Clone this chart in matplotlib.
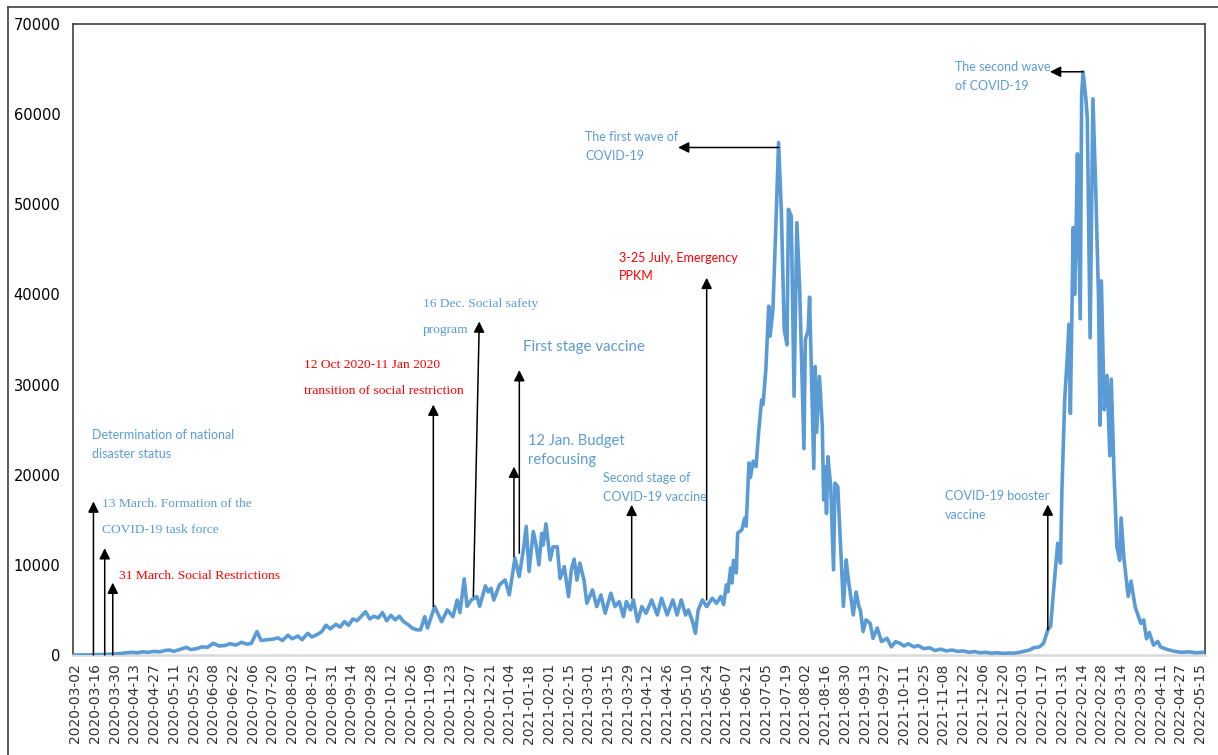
import matplotlib
matplotlib.use("Agg")
import matplotlib.pyplot as plt
from matplotlib.lines import Line2D

# category index (one per reported day) and daily new cases
day = [
    0, 10, 20, 28, 32, 36, 40, 44, 48, 52, 56, 60, 64, 67, 70, 74, 79, 82, 86, 90,
    94, 98, 102, 106, 110, 114, 118, 122, 125, 129, 132, 136, 140, 144, 147, 151,
    154, 158, 161, 165, 168, 172, 175, 178, 181, 185, 188, 191, 194, 197, 200, 203,
    206, 209, 212, 215, 218, 221, 224, 227, 230, 233, 236, 239, 242,
    245, 248, 250, 255, 260, 264, 268, 271, 273, 276, 278, 281, 285, 287, 291, 293,
    295, 297, 301, 305, 308, 312, 315, 318, 320, 322, 325, 327, 329, 331, 332, 334,
    337, 339, 342, 344, 347, 350, 352, 354, 356, 358, 361, 363, 367, 370, 373, 376,
    380, 383, 386, 389, 391, 394, 396, 399, 402, 405, 409, 413, 416, 420, 424, 427,
    430, 433, 435, 438, 440, 442, 445, 448, 452, 455, 458, 460, 462, 463, 465, 466,
    467, 469, 470, 473, 475, 476, 478, 479, 481, 483, 485, 487, 488, 490, 492, 493,
    495, 497, 499, 501, 503, 505, 506, 508, 510, 512, 514, 517, 518, 520, 521, 524,
    525, 526, 528, 530, 531, 532, 533, 534, 536, 538, 539, 541, 543, 545, 547, 548,
    552, 554, 556, 557, 559, 561, 564, 566, 569, 572, 576, 579, 582, 585,
    588, 591, 595, 598, 602, 606, 610, 614, 618, 622, 626, 630, 634, 638, 642, 646,
    650, 654, 658, 662, 666, 670, 674, 677, 680, 684, 687,
    690, 692, 694, 697, 699, 700, 702, 704, 705, 706, 708, 709, 710, 711, 713, 714,
    715, 717, 718, 720, 722, 724, 726, 727, 728, 730, 732, 734, 735, 737, 739, 741,
    742, 744, 747, 749, 752, 754, 756, 758, 760, 762, 765, 768, 770, 775, 780, 785,
    790, 795, 800,
]
cases = [
    2, 20, 60, 120, 150, 250, 300, 250, 350, 300, 400, 350, 500, 550, 400, 600, 850, 600, 700, 900,
    850, 1300, 1000, 1050, 1250, 1100, 1400, 1200, 1300, 2600, 1600, 1700, 1750, 1900, 1600, 2200,
    1800, 2100, 1700, 2400, 2000, 2300, 2600, 3300, 2900, 3400, 3100, 3700, 3300, 4000, 3800, 4300,
    4800, 4000, 4300, 4100, 4700, 3800, 4400, 3900, 4300, 3700, 3400, 3000, 2800,
    2780, 4250, 3000, 5370, 3700, 5000, 4250, 6100, 4700, 8440, 5400, 6100, 6480, 5400, 7670, 7000,
    7400, 6100, 7780, 8330, 6670, 10740, 8700, 11670, 14260, 9260, 13700, 12200, 10000, 13500, 12200, 14550,
    10550, 12000, 12000, 8480, 9800, 6480, 9440, 10630, 8300, 10200, 8300, 5740, 7220, 5370, 6670, 4630,
    6850, 5370, 5930, 4260, 5930, 5000, 6110, 3700, 5370, 4630, 6110, 4440, 6300, 4440, 6110, 4440,
    6110, 4440, 5000, 3700, 2400, 5000, 6110, 5370, 6300, 5740, 6480, 5600, 7780, 7000, 9650, 8000,
    10500, 9100, 13520, 13900, 15190, 14300, 21300, 19700, 21500, 20900, 25000, 28300, 27800, 31700, 38700, 35370,
    38300, 47200, 56850, 49100, 36100, 34400, 49440, 48700, 28700, 47960, 40500, 22900, 35000, 36000, 39700, 20700,
    32000, 24700, 30900, 25400, 17200, 20900, 15700, 22000, 18700, 9440, 19070, 18700, 12000, 5400, 10550, 9000,
    4440, 7000, 5370, 5000, 2600, 3900, 3500, 1850, 3000, 1500, 1850, 900, 1480, 1300,
    1000, 1250, 900, 1050, 700, 800, 500, 650, 450, 550, 400, 450, 300, 380, 250, 300,
    200, 250, 180, 220, 200, 300, 450, 550, 800, 900, 1300,
    2800, 3200, 7000, 12400, 10200, 18300, 28400, 33500, 36700, 26800, 47400, 40000, 46500, 55600, 37300, 62200,
    64700, 61700, 59600, 35200, 61700, 51600, 39400, 25500, 41500, 27200, 31000, 22100, 30600, 20000, 12000, 10500,
    15200, 10700, 6500, 8200, 5300, 4400, 3500, 3900, 1800, 2500, 1100, 1500, 880, 600, 400, 300,
    350, 250, 300,
]

tick_labels = [
    "2020-03-02", "2020-03-16", "2020-03-30", "2020-04-13", "2020-04-27", "2020-05-11",
    "2020-05-25", "2020-06-08", "2020-06-22", "2020-07-06", "2020-07-20", "2020-08-03",
    "2020-08-17", "2020-08-31", "2020-09-14", "2020-09-28", "2020-10-12", "2020-10-26",
    "2020-11-09", "2020-11-23", "2020-12-07", "2020-12-21", "2021-01-04", "2021-01-18",
    "2021-02-01", "2021-02-15", "2021-03-01", "2021-03-15", "2021-03-29", "2021-04-12",
    "2021-04-26", "2021-05-10", "2021-05-24", "2021-06-07", "2021-06-21", "2021-07-05",
    "2021-07-19", "2021-08-02", "2021-08-16", "2021-08-30", "2021-09-13", "2021-09-27",
    "2021-10-11", "2021-10-25", "2021-11-08", "2021-11-22", "2021-12-06", "2021-12-20",
    "2022-01-03", "2022-01-17", "2022-01-31", "2022-02-14", "2022-02-28", "2022-03-14",
    "2022-03-28", "2022-04-11", "2022-04-27", "2022-05-15",
]

BLUE = "#5B9BD5"
RED = "#FF0000"
SANS = "Lato"
SERIF = "Liberation Serif"

# (x, y, text, colour, family, size)
notes = [
    (11.8, 24440, "Determination of national", BLUE, SANS, 9),
    (11.8, 22330, "disaster status", BLUE, SANS, 9),
    (18.9, 16740, "13 March. Formation of the", BLUE, SERIF, 9.7),
    (18.9, 13890, "COVID-19 task force", BLUE, SERIF, 9.7),
    (31.2, 8780, "31 March. Social Restrictions", RED, SERIF, 9.7),
    (162.4, 32220, "12 Oct 2020-11 Jan 2020", RED, SERIF, 9.7),
    (162.4, 29330, "transition of social restriction", RED, SERIF, 9.7),
    (246.8, 38890, "16 Dec. Social safety", BLUE, SERIF, 9.7),
    (246.8, 36000, "program", BLUE, SERIF, 9.7),
    (317.9, 34140, "First stage vaccine", BLUE, SANS, 10.8),
    (321.0, 23780, "12 Jan. Budget", BLUE, SANS, 10.6),
    (321.0, 21660, "refocusing", BLUE, SANS, 10.6),
    (374.7, 19590, "Second stage of", BLUE, SANS, 9),
    (374.7, 17520, "COVID-19 vaccine", BLUE, SANS, 9),
    (386.0, 44070, "3-25 July, Emergency", RED, SANS, 9),
    (386.0, 42030, "PPKM", RED, SANS, 9),
    (361.7, 57440, "The first wave of", BLUE, SANS, 9),
    (361.7, 55330, "COVID-19", BLUE, SANS, 9),
    (624.1, 65210, "The second wave", BLUE, SANS, 9),
    (624.1, 63100, "of COVID-19", BLUE, SANS, 9),
    (617.0, 17660, "COVID-19 booster", BLUE, SANS, 9),
    (617.0, 15550, "vaccine", BLUE, SANS, 9),
]

# (tail x, tail y, head x, head y)
arrows = [
    (13.0, 0, 13.0, 17030),
    (21.0, 0, 21.0, 11850),
    (26.7, 0, 26.7, 8030),
    (254.1, 5370, 254.1, 27780),
    (282.5, 6500, 286.7, 37000),
    (311.3, 10900, 311.3, 20900),
    (315.1, 11300, 315.1, 31600),
    (394.8, 6300, 394.8, 16670),
    (448.0, 6100, 448.0, 41850),
    (499.3, 56300, 427.7, 56300),
    (715.0, 64700, 691.5, 64700),
    (690.0, 2800, 690.0, 16700),
]

fig = plt.figure(figsize=(12.18, 7.55), dpi=100)
ax = fig.add_axes([73 / 1218, 100 / 755, (1205 - 73) / 1218, (655 - 24) / 755])

ax.plot(day, cases, color=BLUE, lw=2.6, solid_joinstyle="round", zorder=3)

for x0, y0, x1, y1 in arrows:
    ax.annotate("", xy=(x1, y1), xytext=(x0, y0),
                arrowprops=dict(arrowstyle="-|>", color="black", lw=1.1,
                                mutation_scale=16, shrinkA=0, shrinkB=0),
                zorder=4)

for x, y, s, c, fam, size in notes:
    ax.text(x, y, s, color=c, family=fam, fontsize=size, ha="left", va="center")

ax.set_xlim(-1.5, 801.5)
ax.set_ylim(0, 70000)
ax.set_yticks(range(0, 70001, 10000))
ax.set_xticks(range(0, 14 * len(tick_labels), 14))
ax.set_xticklabels(tick_labels, rotation=90, fontsize=10, color="#333333")
ax.tick_params(axis="y", length=0, pad=9, labelsize=10.5)
ax.tick_params(axis="x", length=0, pad=6)

for side in ("top", "left", "right"):
    ax.spines[side].set_color("#404040")
    ax.spines[side].set_linewidth(1.2)
ax.spines["bottom"].set_color("#d9d9d9")
ax.spines["bottom"].set_linewidth(1.8)

# outer chart border
fig.add_artist(Line2D([8 / 1218, 8 / 1218], [0, 1 - 7 / 755], color="#404040", lw=1.2))
fig.add_artist(Line2D([8 / 1218, 1], [1 - 7 / 755, 1 - 7 / 755], color="#404040", lw=1.2))

fig.savefig("out.png", dpi=100)
